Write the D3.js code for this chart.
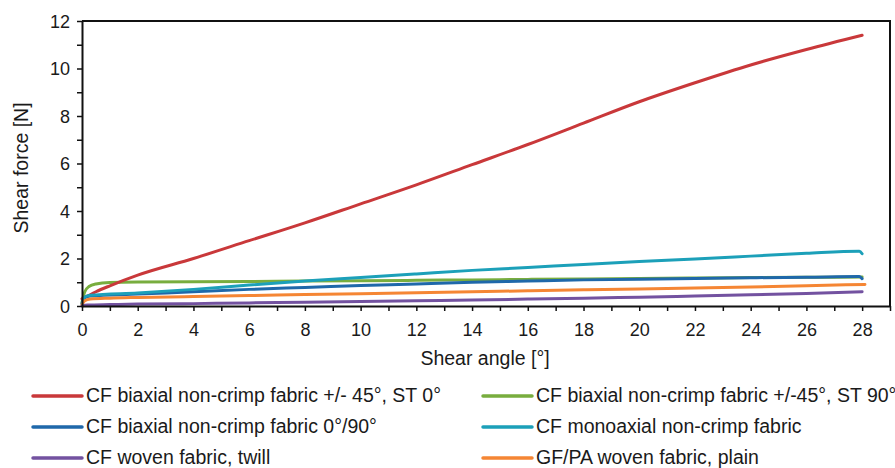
<!DOCTYPE html>
<html>
<head>
<meta charset="utf-8">
<script src="https://cdn.jsdelivr.net/npm/d3@7"></script>
<style>
  body { margin: 0; background: #fff; }
  text { font-family: "Liberation Sans", Arial, sans-serif; fill: #1a1a1a; }
</style>
</head>
<body>
<div id="container"></div>
<script>
const w = 895;
const h = 468;

// each series: [shear angle (deg), shear force (N)]
const redData = [[0, 0.3], [0.5, 0.6], [1, 0.85], [2, 1.3], [4, 2.0], [6, 2.75], [8, 3.5], [10, 4.3], [12, 5.1],
  [14, 5.95], [16, 6.8], [18, 7.7], [20, 8.6], [22, 9.4], [24, 10.15], [26, 10.8], [28, 11.4]];
const greenData = [[0, 0.15], [0.1, 0.6], [0.25, 0.82], [0.5, 0.93], [1, 0.99], [2, 1.01], [4, 1.02], [6, 1.03],
  [8, 1.05], [10, 1.06], [12, 1.08], [14, 1.1], [16, 1.12], [18, 1.14], [20, 1.16], [22, 1.18], [24, 1.2], [26, 1.21], [28, 1.22]];
const blueData = [[0, 0.1], [0.1, 0.35], [0.3, 0.42], [2, 0.5], [4, 0.6], [6, 0.7], [8, 0.78], [10, 0.86], [12, 0.93],
  [14, 1.0], [16, 1.05], [18, 1.1], [20, 1.13], [22, 1.16], [24, 1.19], [26, 1.21], [27.9, 1.24], [28, 1.15]];
const cyanData = [[0, 0.1], [0.1, 0.38], [0.3, 0.45], [2, 0.55], [4, 0.7], [6, 0.88], [8, 1.05], [10, 1.2], [12, 1.35],
  [14, 1.5], [16, 1.62], [18, 1.75], [20, 1.87], [22, 1.98], [24, 2.1], [26, 2.22], [27.9, 2.31], [28, 2.2]];
const purpleData = [[0, 0.0], [0.2, 0.04], [1, 0.06], [2, 0.08], [4, 0.1], [6, 0.13], [8, 0.16], [10, 0.19], [12, 0.22],
  [14, 0.25], [16, 0.29], [18, 0.33], [20, 0.37], [22, 0.42], [24, 0.47], [26, 0.53], [28, 0.6]];
const orangeData = [[0, 0.05], [0.1, 0.22], [0.3, 0.29], [1, 0.33], [2, 0.36], [4, 0.4], [6, 0.44], [8, 0.48], [10, 0.52],
  [12, 0.56], [14, 0.6], [16, 0.64], [18, 0.68], [20, 0.72], [22, 0.76], [24, 0.8], [26, 0.85], [28.1, 0.91]];

const seriesNames = [
  "CF biaxial non-crimp fabric +/- 45°, ST 0°",
  "CF biaxial non-crimp fabric +/-45°, ST 90°",
  "CF biaxial non-crimp fabric 0°/90°",
  "CF monoaxial non-crimp fabric",
  "CF woven fabric, twill",
  "GF/PA woven fabric, plain"
];
const seriesColors = ["#c9383a", "#78ad3e", "#1f68aa", "#1ca0b9", "#7352a0", "#f58634"];
const seriesData = [redData, greenData, blueData, cyanData, purpleData, orangeData];

const x = d3.scaleLinear().domain([0, 29]).range([82, 890]);
const y = d3.scaleLinear().domain([0, 12]).range([306, 21]);

const svg = d3.select("#container")
  .append("svg")
  .attr("width", w)
  .attr("height", h);

const line = d3.line()
  .x((d) => x(d[0]))
  .y((d) => y(d[1]))
  .curve(d3.curveMonotoneX);

// draw green first so the others sit over it
const drawOrder = [1, 0, 2, 3, 5, 4];
drawOrder.forEach((i) => {
  svg.append("path")
    .datum(seriesData[i])
    .attr("d", line)
    .attr("fill", "none")
    .attr("stroke", seriesColors[i])
    .attr("stroke-width", 3)
    .attr("stroke-linecap", "round")
    .attr("stroke-linejoin", "round");
});

// frame top/right
svg.append("path")
  .attr("d", `M${x(0)},${y(12)}H${x(29)}V${y(0)}`)
  .attr("fill", "none")
  .attr("stroke", "#111")
  .attr("stroke-width", 2);

const xAxis = svg.append("g")
  .attr("transform", `translate(0,${y(0)})`)
  .call(d3.axisBottom(x).tickValues(d3.range(0, 30)).tickSize(5).tickSizeOuter(0)
    .tickFormat((d) => (d % 2 === 0 && d <= 28 ? d : "")));

const yAxis = svg.append("g")
  .attr("transform", `translate(${x(0)},0)`)
  .call(d3.axisLeft(y).tickValues(d3.range(0, 13)).tickSize(5).tickSizeOuter(0)
    .tickFormat((d) => (d % 2 === 0 ? d : "")));

[xAxis, yAxis].forEach((g) => {
  g.select(".domain").attr("stroke", "#111").attr("stroke-width", 2);
  g.selectAll(".tick line").attr("stroke", "#111").attr("stroke-width", 1.5);
  g.selectAll(".tick text").style("font-size", "18px").attr("fill", "#1a1a1a")
    .style("font-family", '"Liberation Sans", Arial, sans-serif');
});
xAxis.selectAll(".tick text").attr("dy", "0").attr("y", 30);
yAxis.selectAll(".tick text").attr("x", -12).attr("dy", "0.35em");

svg.append("text")
  .attr("x", 485)
  .attr("y", 365)
  .attr("text-anchor", "middle")
  .style("font-size", "19.5px")
  .text("Shear angle [°]");

svg.append("text")
  .attr("transform", "rotate(-90)")
  .attr("x", -168)
  .attr("y", 28)
  .attr("text-anchor", "middle")
  .style("font-size", "19.5px")
  .text("Shear force [N]");

// legend, two columns x three rows
const legendX = [33, 483];
const legendY = [396, 427, 458];
const legend = svg.append("g");
seriesNames.forEach((name, i) => {
  const lx = legendX[i % 2];
  const ly = legendY[Math.floor(i / 2)];
  legend.append("line")
    .attr("x1", lx).attr("x2", lx + 49)
    .attr("y1", ly).attr("y2", ly)
    .attr("stroke", seriesColors[i])
    .attr("stroke-width", 3.5)
    .attr("stroke-linecap", "round");
  legend.append("text")
    .attr("x", lx + 53)
    .attr("y", ly)
    .attr("dy", "0.33em")
    .style("font-size", "19.5px")
    .text(name);
});
</script>
</body>
</html>
